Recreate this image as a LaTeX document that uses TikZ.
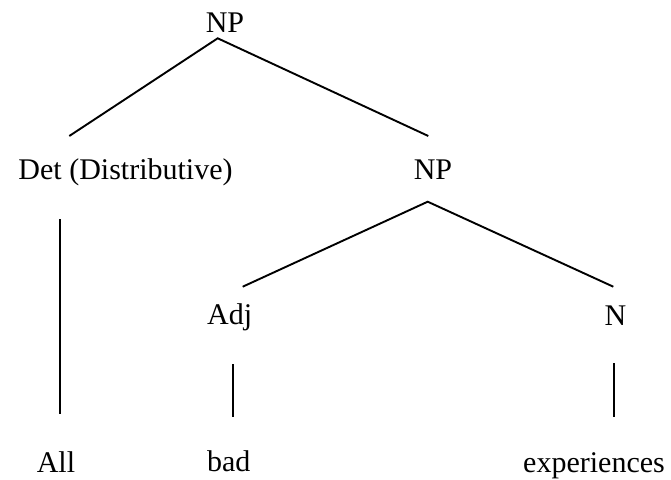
\documentclass[tikz,border=0pt]{standalone}
\usepackage{fontspec}
\setmainfont{Liberation Serif}
\begin{document}
\begin{tikzpicture}[x=1pt,y=-1pt,
  lbl/.style={anchor=base, inner sep=0pt, font=\fontsize{30}{36}\selectfont},
  branch/.style={line width=1.9pt, line cap=butt}]
\useasboundingbox (0,0) rectangle (671,479);

% category and word labels
\node[lbl] (np1) at (225,32)    {NP};
\node[lbl] (det) at (125.5,179.3) {Det (Distributive)};
\node[lbl] (np2) at (433,179.3)  {NP};
\node[lbl] (adj) at (229.6,324)  {Adj};
\node[lbl] (n)   at (615.5,325)  {N};
\node[lbl] (all) at (56,472.5)   {All};
\node[lbl] (bad) at (228.7,471)  {bad};
\node[lbl] (exp) at (594,472)    {experiences};

% branch end points
\coordinate (np1-foot) at (217.7,38.3);
\coordinate (det-head) at (69.3,136);
\coordinate (np2-head) at (428.3,136);
\coordinate (np2-foot) at (427.7,201.7);
\coordinate (adj-head) at (242.7,286.7);
\coordinate (n-head)   at (613.3,286.7);
\coordinate (det-foot) at (60,219.3);
\coordinate (all-head) at (60,414);
\coordinate (adj-foot) at (232.7,364);
\coordinate (bad-head) at (232.7,417);
\coordinate (n-foot)   at (614.3,363);
\coordinate (exp-head) at (614.3,417);

% branches
\draw[branch] (det-head) -- (np1-foot) -- (np2-head);
\draw[branch] (adj-head) -- (np2-foot) -- (n-head);
\draw[branch] (det-foot) -- (all-head);
\draw[branch] (adj-foot) -- (bad-head);
\draw[branch] (n-foot) -- (exp-head);
\end{tikzpicture}
\end{document}
